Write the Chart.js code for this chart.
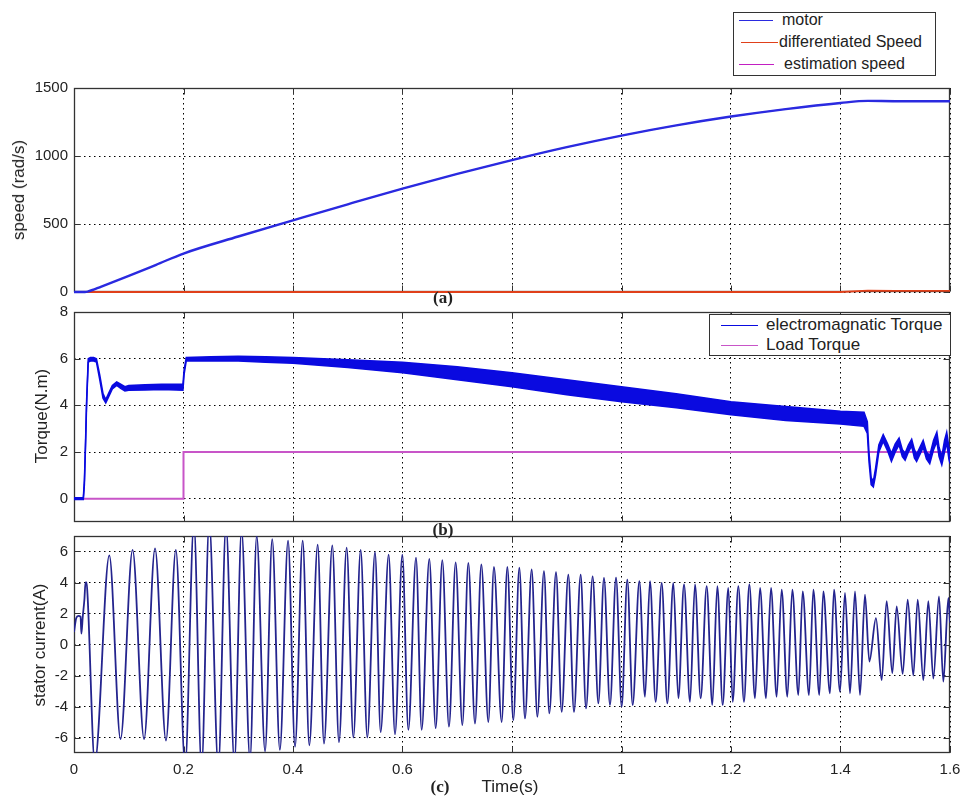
<!DOCTYPE html>
<html>
<head>
<meta charset="utf-8">
<script src="https://cdn.jsdelivr.net/npm/chart.js@4.4.1/dist/chart.umd.min.js"></script>
<style>
  html, body { margin: 0; padding: 0; background: #fff; }
  #wrap { position: relative; width: 962px; height: 801px; background: #fff; overflow: hidden;
          font-family: "Liberation Sans", Arial, sans-serif; color: #222; }
  .cv { position: absolute; left: 0; }
  .lbl { position: absolute; white-space: nowrap; font-size: 17px; color: #222; }
  .rot { transform: translate(-50%, -50%) rotate(-90deg); }
  .tag { position: absolute; font-family: "Liberation Serif", "DejaVu Serif", serif; font-weight: bold;
         font-size: 17px; transform: translate(-50%, -50%); color: #222; }
  .legend { position: absolute; background: #fff; border: 1px solid #333; box-sizing: border-box; }
  .lg-line { position: absolute; height: 0; border-top: 1.5px solid; }
  .lg-text { position: absolute; font-size: 16px; white-space: nowrap; transform: translateY(-50%); color: #222; }
</style>
</head>
<body>
<div id="wrap">
  <canvas id="ca" class="cv" width="962" height="220" style="top:80px"></canvas>
  <canvas id="cb" class="cv" width="962" height="230" style="top:300px"></canvas>
  <canvas id="cc" class="cv" width="962" height="271" style="top:530px"></canvas>

  <div class="lbl rot" style="left:19px; top:190px">speed (rad/s)</div>
  <div class="lbl rot" style="left:42px; top:416px">Torque(N.m)</div>
  <div class="lbl rot" style="left:40px; top:645px">stator current(A)</div>
  <div class="lbl" style="left:510px; top:787px; transform:translate(-50%,-50%)">Time(s)</div>
  <div class="tag" style="left:443px; top:298px">(a)</div>
  <div class="tag" style="left:443px; top:530px">(b)</div>
  <div class="tag" style="left:440px; top:787px">(c)</div>

  <div id="legA" class="legend" style="left:733px; top:12px; width:203px; height:64px"></div>
  <div id="legB" class="legend" style="left:709px; top:314px; width:242px; height:42px"></div>
</div>
<script>
// ---------------- DATA ----------------
// (a) speed
const speedTime   = [0, 0.02, 0.025, 0.05, 0.1, 0.15, 0.2, 0.3, 0.4, 0.5, 0.6, 0.7, 0.8, 0.9, 1.0, 1.1, 1.2, 1.3, 1.4, 1.45, 1.5, 1.6];
const motorSpeed  = [0, 0, 3, 40, 118, 200, 283, 408, 527, 645, 760, 868, 970, 1065, 1150, 1225, 1290, 1345, 1390, 1405, 1403, 1403];
const estSpeed    = [0, 0, 3, 40, 118, 200, 283, 408, 527, 645, 760, 868, 970, 1065, 1150, 1225, 1290, 1345, 1390, 1405, 1403, 1403];
const diffSpeed   = [0, 0, 0, 0, 0, 0, 0, 0, 0, 0, 0, 0, 0, 0, 0, 0, 0, 0, 0, 10, 8, 8];
const speedTicks  = [0, 500, 1000, 1500];

// (b) torque
const torqueTime  = [0, 0.017, 0.019, 0.021, 0.023, 0.026, 0.03, 0.036, 0.041, 0.047, 0.053, 0.058, 0.063, 0.07, 0.078, 0.086, 0.093, 0.1, 0.13, 0.16, 0.199, 0.201, 0.205, 0.25, 0.3, 0.35, 0.4, 0.5, 0.6, 0.7, 0.8, 0.9, 1.0, 1.1, 1.2, 1.3, 1.4, 1.443, 1.449, 1.452, 1.456, 1.46, 1.464, 1.47, 1.478, 1.486, 1.493, 1.5, 1.507, 1.513, 1.518, 1.524, 1.53, 1.535, 1.539, 1.545, 1.551, 1.557, 1.563, 1.57, 1.576, 1.58, 1.585, 1.59, 1.594, 1.598, 1.6];
const emTorqueHigh = [0.04, 0.04, 0.8, 2.4, 4.2, 6.0, 6.05, 6.05, 6.0, 5.3, 4.5, 4.25, 4.5, 4.85, 5.0, 4.9, 4.8, 4.85, 4.88, 4.9, 4.9, 5.5, 6.05, 6.08, 6.1, 6.08, 6.05, 5.95, 5.85, 5.65, 5.4, 5.1, 4.8, 4.5, 4.15, 3.95, 3.75, 3.7, 3.3, 2.0, 0.9, 0.75, 1.3, 2.3, 2.75, 2.35, 1.95, 2.35, 2.6, 2.1, 1.95, 2.3, 2.55, 2.1, 1.9, 2.2, 2.5, 2.0, 1.85, 2.5, 2.85, 2.2, 1.8, 2.5, 2.85, 2.2, 1.9];
const emTorqueLow  = [-0.04, -0.04, 0.6, 2.2, 4.0, 5.85, 5.9, 5.9, 5.85, 5.1, 4.3, 4.1, 4.35, 4.7, 4.85, 4.72, 4.62, 4.65, 4.66, 4.68, 4.65, 5.3, 5.9, 5.9, 5.9, 5.85, 5.8, 5.62, 5.4, 5.1, 4.8, 4.45, 4.15, 3.9, 3.6, 3.35, 3.2, 3.1, 2.8, 1.6, 0.6, 0.5, 1.0, 2.0, 2.45, 2.05, 1.6, 2.0, 2.3, 1.8, 1.65, 2.0, 2.25, 1.75, 1.6, 1.9, 2.2, 1.7, 1.5, 2.1, 2.45, 1.8, 1.45, 2.0, 2.4, 1.7, 1.5];
const loadTime    = [0, 0.2, 0.2, 1.6];
const loadTorque  = [0, 0, 2, 2];
const torqueTicks = [0, 2, 4, 6, 8];

// (c) stator current (peaks, troughs and start-up detail)
const currentTime = [0, 0.004, 0.008, 0.012, 0.0135, 0.016, 0.019, 0.021, 0.023, 0.025, 0.038,
  0.0645, 0.085, 0.107, 0.128, 0.148, 0.168, 0.186, 0.203, 0.219, 0.233, 0.247, 0.2636, 0.2776, 0.293,
  0.306, 0.3215, 0.3337, 0.349, 0.362, 0.376, 0.391, 0.4037, 0.4177, 0.4298, 0.4451, 0.4566, 0.4718, 0.484,
  0.498, 0.5102, 0.5236, 0.5358, 0.5498, 0.5601, 0.5747, 0.5863, 0.5997, 0.6107, 0.6247, 0.635, 0.649, 0.6606,
  0.6727, 0.6849, 0.6971, 0.7093, 0.7202, 0.7324, 0.744, 0.7568, 0.767, 0.7811, 0.7915, 0.8024, 0.8134, 0.8237,
  0.8359, 0.8463, 0.8584, 0.8682, 0.8804, 0.8907, 0.9029, 0.9132, 0.9254, 0.9352, 0.9473, 0.9577, 0.968, 0.979,
  0.99, 1.0003, 1.0106, 1.0204, 1.0326, 1.0429, 1.052, 1.0624, 1.0734, 1.0837, 1.0947, 1.1038, 1.1142, 1.1251,
  1.1342, 1.1446, 1.1556, 1.1659, 1.175, 1.1848, 1.1951, 1.2031, 1.2134, 1.2237, 1.2335, 1.2438, 1.253, 1.2639,
  1.273, 1.2834, 1.2925, 1.3029, 1.312, 1.323, 1.3309, 1.3425, 1.3504, 1.3613, 1.3686, 1.3808, 1.3881, 1.3991,
  1.4082, 1.4174, 1.4265, 1.4356, 1.4447, 1.4527, 1.4648, 1.4752, 1.4843, 1.4947, 1.5026, 1.5136, 1.5227, 1.533,
  1.541, 1.5513, 1.5604, 1.5696, 1.5799, 1.5878, 1.597, 1.6];
const currentVal = [0.8, 1.7, 1.85, 1.8, 0.7, 1.8, 2.9, 4.0, 4.0, 3.0, -7.6,
  5.75, -6.1, 6.1, -6.1, 6.2, -6.2, 6.1, -7.8, 7.8, -7.9, 7.9, -7.9, 7.7, -7.6,
  7.4, -7.4, 7.0, -6.9, 6.8, -6.8, 6.7, -6.6, 6.7, -6.5, 6.45, -6.4, 6.4, -6.3,
  6.25, -6.0, 6.1, -6.0, 5.96, -5.65, 5.8, -5.8, 5.8, -5.5, 5.6, -5.5, 5.53, -5.4,
  5.44, -5.3, 5.3, -5.2, 5.27, -5.1, 5.16, -5.0, 5.0, -5.0, 5.0, -4.88, 4.95, -4.77,
  4.84, -4.66, 4.73, -4.44, 4.66, -4.34, 4.5, -4.34, 4.5, -4.12, 4.4, -3.8, 4.3, -3.9,
  4.32, -4.0, 4.19, -3.9, 4.08, -3.37, 4.08, -3.7, 3.98, -3.8, 3.98, -3.47, 3.87, -3.7,
  3.87, -3.47, 3.76, -3.9, 3.76, -3.9, 3.65, -3.7, 3.76, -3.7, 3.87, -3.47, 3.65, -3.47,
  3.65, -3.37, 3.54, -3.37, 3.54, -3.26, 3.43, -3.26, 3.54, -3.26, 3.43, -3.15, 3.54, -3.04,
  3.33, -3.15, 3.43, -3.26, 3.22, -1.1, 1.7, -2.3, 2.8, -1.85, 2.46, -1.9, 2.9, -2.0,
  2.9, -2.3, 2.8, -2.2, 3.1, -2.4, 3.0, 1.4];
const currentTicks = [-6, -4, -2, 0, 2, 4, 6];

const timeTicks  = [0, 0.2, 0.4, 0.6, 0.8, 1, 1.2, 1.4, 1.6];
const timeLabels = ['0', '0.2', '0.4', '0.6', '0.8', '1', '1.2', '1.4', '1.6'];

// ---------------- STYLE ----------------
const C = {
  motor: '#2a2ae0', diff: '#e0401a', est: '#c21fc2',
  em: '#0a0ae0', load: '#c855c8', cur: '#24248e'
};
const pts = (xs, ys) => xs.map((x, i) => ({ x: x, y: ys[i] }));

const framePlugin = {
  id: 'frame',
  beforeDatasetsDraw(chart) {
    const { ctx, chartArea: a, scales } = chart;
    const L = Math.round(a.left) + 0.5, R = Math.round(a.right) - 0.5;
    const T = Math.round(a.top) + 0.5, B = Math.round(a.bottom) - 0.5;
    ctx.save();
    ctx.setLineDash([]);
    ctx.strokeStyle = '#333';
    ctx.lineWidth = 1;
    ctx.beginPath();
    scales.x.ticks.forEach(t => {
      const px = Math.round(scales.x.getPixelForValue(t.value)) + 0.5;
      ctx.moveTo(px, B); ctx.lineTo(px, B - 6);
      ctx.moveTo(px, T); ctx.lineTo(px, T + 6);
    });
    scales.y.ticks.forEach(t => {
      const py = Math.round(scales.y.getPixelForValue(t.value)) + 0.5;
      ctx.moveTo(L, py); ctx.lineTo(L + 6, py);
      ctx.moveTo(R, py); ctx.lineTo(R - 6, py);
    });
    ctx.stroke();
    ctx.lineWidth = 1.3;
    ctx.strokeRect(L, T, R - L, B - T);
    ctx.restore();
  }
};

function makeScales(yMin, yMax, yTicks, showX, xHeight) {
  return {
    x: {
      type: 'linear', min: 0, max: 1.6,
      afterBuildTicks: s => { s.ticks = timeTicks.map(v => ({ value: v })); },
      afterFit: s => { s.height = xHeight; s.paddingLeft = 0; s.paddingRight = 0; s.paddingTop = 0; s.paddingBottom = 0; },
      grid: { color: '#000', lineWidth: 1, drawTicks: false },
      border: { display: false, dash: [1.5, 3.5] },
      ticks: {
        display: showX, padding: 8, maxRotation: 0, autoSkip: false, color: '#222',
        font: { family: 'Liberation Sans, Arial, sans-serif', size: 15 },
        callback: (v) => { const i = timeTicks.indexOf(v); return i >= 0 ? timeLabels[i] : ''; }
      }
    },
    y: {
      type: 'linear', min: yMin, max: yMax,
      afterBuildTicks: s => { s.ticks = yTicks.map(v => ({ value: v })); },
      afterFit: s => { s.width = 74; s.paddingTop = 0; s.paddingBottom = 0; s.paddingLeft = 0; s.paddingRight = 0; },
      grid: { color: '#000', lineWidth: 1, drawTicks: false },
      border: { display: false, dash: [1.5, 3.5] },
      ticks: {
        padding: 6, color: '#222', autoSkip: false,
        font: { family: 'Liberation Sans, Arial, sans-serif', size: 15 },
        callback: v => String(v)
      }
    }
  };
}

const baseOpts = (layoutPad, scales) => ({
  responsive: false, animation: false, devicePixelRatio: 1,
  layout: { padding: layoutPad },
  plugins: { legend: { display: false }, tooltip: { enabled: false } },
  elements: { point: { radius: 0 } },
  scales: scales
});

// (a) speed chart
const chartA = new Chart(document.getElementById('ca'), {
  type: 'line',
  data: { datasets: [
    { label: 'motor', data: pts(speedTime, motorSpeed), borderColor: C.motor, borderWidth: 2.4, cubicInterpolationMode: 'monotone', clip: 3 },
    { label: 'differentiated Speed', data: pts(speedTime, diffSpeed), borderColor: C.diff, borderWidth: 1.8, clip: 3 },
    { label: 'estimation speed', data: pts(speedTime, estSpeed), borderColor: C.est, borderWidth: 1, cubicInterpolationMode: 'monotone', clip: 3 }
  ]},
  options: baseOpts({ left: 0, right: 12, top: 8, bottom: 8 }, makeScales(0, 1500, speedTicks, false, 0)),
  plugins: [framePlugin]
});

// (b) torque chart
const chartB = new Chart(document.getElementById('cb'), {
  type: 'line',
  data: { datasets: [
    { label: 'electromagnatic Torque', data: pts(torqueTime, emTorqueHigh), borderColor: C.em, borderWidth: 1.5, tension: 0, fill: false },
    { label: 'electromagnatic Torque (low)', data: pts(torqueTime, emTorqueLow), borderColor: C.em, borderWidth: 1.5, tension: 0, fill: '-1', backgroundColor: C.em },
    { label: 'Load Torque', data: pts(loadTime, loadTorque), borderColor: C.load, borderWidth: 2, tension: 0 }
  ]},
  options: baseOpts({ left: 0, right: 12, top: 12, bottom: 8 }, makeScales(-1, 8, torqueTicks, false, 0)),
  plugins: [framePlugin]
});

// (c) current chart
const chartC = new Chart(document.getElementById('cc'), {
  type: 'line',
  data: { datasets: [
    { label: 'stator current', data: pts(currentTime, currentVal), borderColor: C.cur, borderWidth: 1.8, cubicInterpolationMode: 'monotone' }
  ]},
  options: baseOpts({ left: 0, right: 12, top: 6, bottom: 18 }, makeScales(-7, 7, currentTicks, true, 30)),
  plugins: [framePlugin]
});

// ---------------- LEGENDS (labels & colours taken from the datasets) ----------------
function buildLegend(el, chart, idxs, rows) {
  idxs.forEach((di, k) => {
    const ds = chart.data.datasets[di];
    const r = rows[k];
    const ln = document.createElement('div');
    ln.className = 'lg-line';
    ln.style.left = r.lx + 'px'; ln.style.width = r.lw + 'px'; ln.style.top = r.y + 'px';
    ln.style.borderTopColor = ds.borderColor;
    el.appendChild(ln);
    const tx = document.createElement('div');
    tx.className = 'lg-text';
    tx.style.left = r.tx + 'px'; tx.style.top = r.y + 'px';
    tx.style.fontSize = r.fs + 'px';
    tx.textContent = ds.label;
    el.appendChild(tx);
  });
}
buildLegend(document.getElementById('legA'), chartA, [0, 1, 2], [
  { lx: 5, lw: 34, y: 7, tx: 48, fs: 16 },
  { lx: 7, lw: 37, y: 29, tx: 45, fs: 16 },
  { lx: 5, lw: 35, y: 51, tx: 50, fs: 16 }
]);
buildLegend(document.getElementById('legB'), chartB, [0, 2], [
  { lx: 11, lw: 37, y: 10, tx: 56, fs: 17 },
  { lx: 11, lw: 37, y: 30, tx: 56, fs: 17 }
]);
</script>
</body>
</html>
